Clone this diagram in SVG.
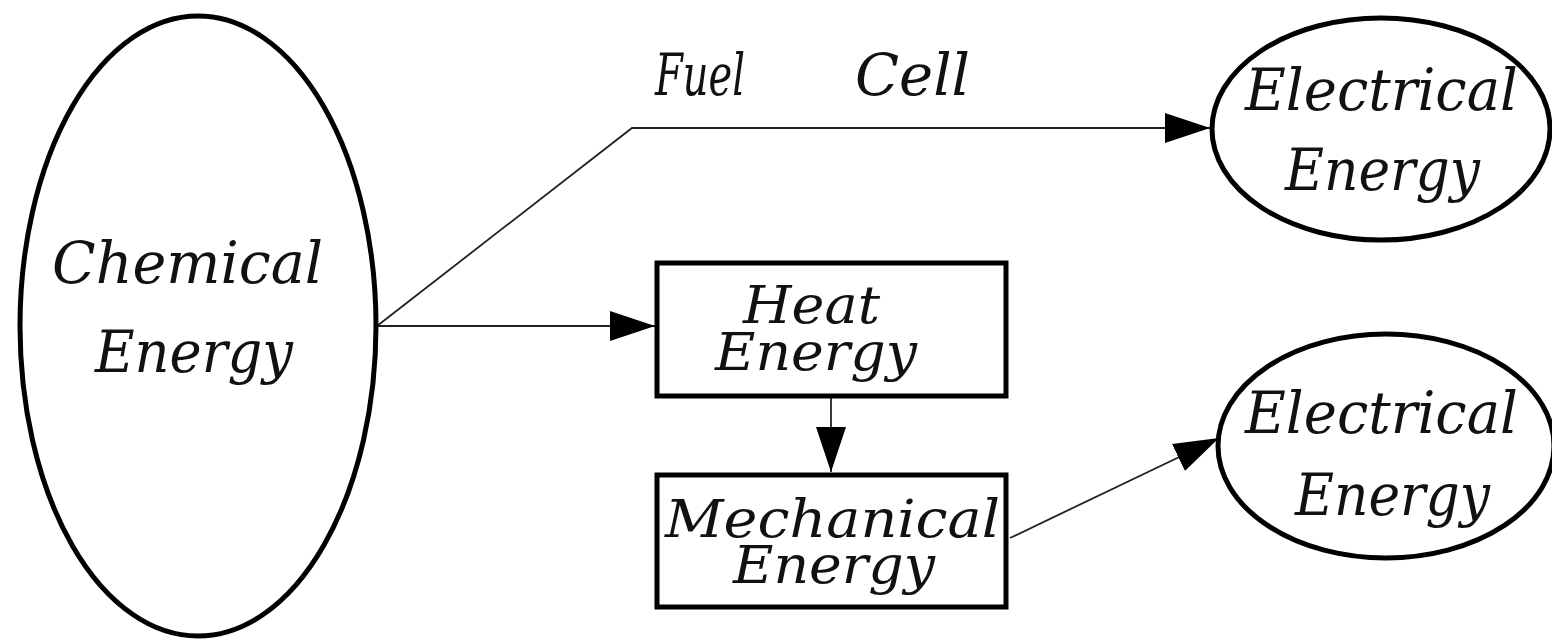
<svg xmlns="http://www.w3.org/2000/svg" width="1552" height="640" viewBox="0 0 1552 640">
<style>
.shape{fill:#fff;stroke:#000;stroke-width:5}
.conn{fill:none;stroke:#222;stroke-width:1.8}
.t{font-family:"DejaVu Serif","Liberation Serif",serif;font-style:italic;font-size:58px;fill:#111}
.s{font-size:52px}
</style>
<defs>
<marker id="ah" markerUnits="userSpaceOnUse" markerWidth="46" markerHeight="32" refX="45" refY="15" orient="auto">
<path d="M0,0 L45,15 L0,30 z" fill="#000"/>
</marker>
</defs>
<rect width="1552" height="640" fill="#fff"/>
<g id="connectors">
<polyline class="conn" points="377,326 632,128 1210,128" marker-end="url(#ah)"/>
<line class="conn" x1="377" y1="326" x2="655" y2="326" marker-end="url(#ah)"/>
<line class="conn" x1="831" y1="398" x2="831" y2="472" marker-end="url(#ah)"/>
<line class="conn" x1="1010" y1="538" x2="1219" y2="438" marker-end="url(#ah)"/>
<text class="t" y="95"><tspan x="655" textLength="90" lengthAdjust="spacingAndGlyphs">Fuel</tspan><tspan x="855" textLength="115" lengthAdjust="spacingAndGlyphs">Cell</tspan></text>
</g>
<g id="chemical">
<ellipse class="shape" cx="198" cy="326" rx="178" ry="310"/>
<text class="t" x="52" y="283" textLength="271" lengthAdjust="spacingAndGlyphs">Chemical</text>
<text class="t" x="95" y="372" textLength="198" lengthAdjust="spacingAndGlyphs">Energy</text>
</g>
<g id="heat">
<rect class="shape" x="657" y="263" width="349" height="133"/>
<text class="t s" x="743" y="323" textLength="137" lengthAdjust="spacingAndGlyphs">Heat</text>
<text class="t s" x="715" y="370" textLength="202" lengthAdjust="spacingAndGlyphs">Energy</text>
</g>
<g id="mechanical">
<rect class="shape" x="657" y="475" width="349" height="132"/>
<text class="t s" x="665" y="537" textLength="335" lengthAdjust="spacingAndGlyphs">Mechanical</text>
<text class="t s" x="733" y="583" textLength="202" lengthAdjust="spacingAndGlyphs">Energy</text>
</g>
<g id="electrical1">
<ellipse class="shape" cx="1381" cy="129" rx="169" ry="111"/>
<text class="t" x="1245" y="110" textLength="273" lengthAdjust="spacingAndGlyphs">Electrical</text>
<text class="t" x="1285" y="190" textLength="195" lengthAdjust="spacingAndGlyphs">Energy</text>
</g>
<g id="electrical2">
<ellipse class="shape" cx="1386" cy="446" rx="168" ry="112"/>
<text class="t" x="1245" y="433" textLength="273" lengthAdjust="spacingAndGlyphs">Electrical</text>
<text class="t" x="1295" y="515" textLength="195" lengthAdjust="spacingAndGlyphs">Energy</text>
</g>
</svg>
